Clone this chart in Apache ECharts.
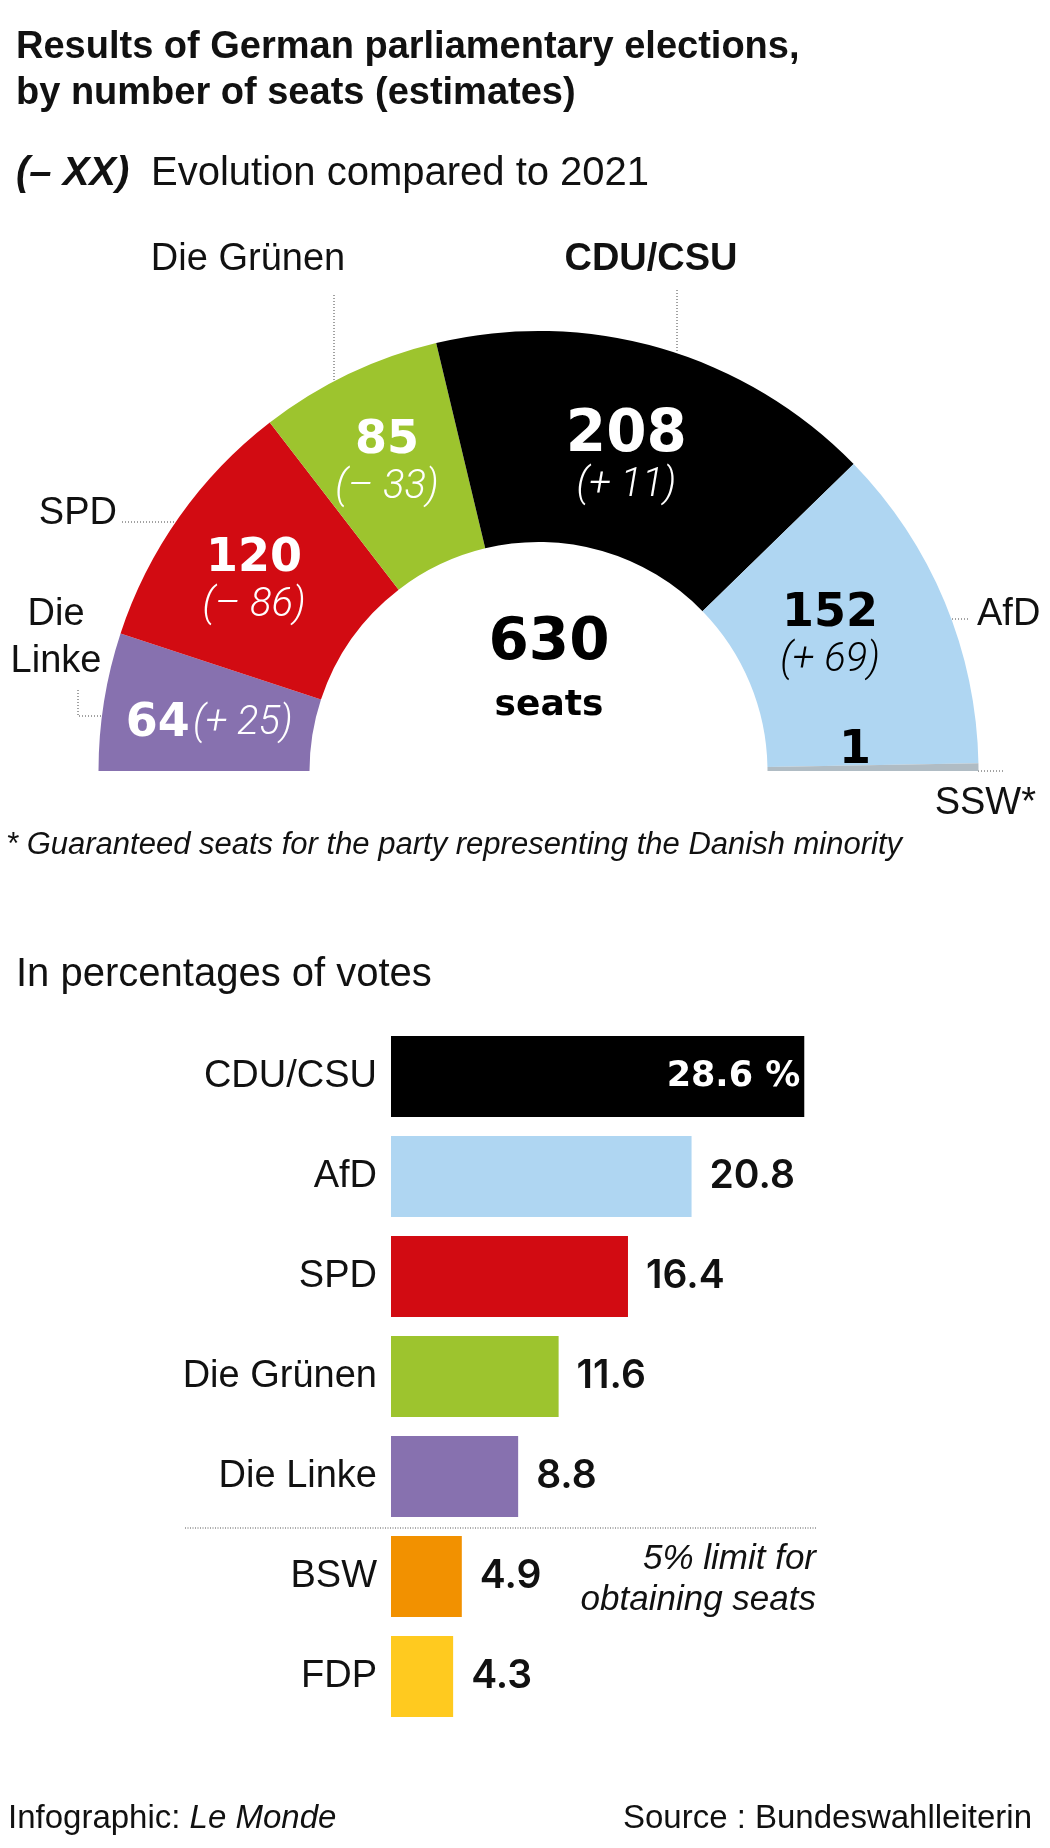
<!DOCTYPE html>
<html>
<head>
<meta charset="utf-8">
<title>German elections 2025</title>
<script src="https://cdn.jsdelivr.net/npm/echarts@6/dist/echarts.min.js"></script>
<style>
  html, body { margin: 0; padding: 0; background: #fff; }
  #chart { width: 1050px; height: 1848px; }
</style>
</head>
<body>
<div id="chart"></div>
<script>
// seats (half circle, left to right)
const seatParties = ['Die Linke', 'SPD', 'Die Grünen', 'CDU/CSU', 'AfD', 'SSW'];
const seatValues = [64, 120, 85, 208, 152, 1];
const seatChanges = ['+ 25', '– 86', '– 33', '+ 11', '+ 69', ''];
const seatColors = ['#8771af', '#d20b12', '#9dc42e', '#000000', '#afd6f2', '#b0bcc4'];

// votes in %
const voteParties = ['CDU/CSU', 'AfD', 'SPD', 'Die Grünen', 'Die Linke', 'BSW', 'FDP'];
const voteValues = [28.6, 20.8, 16.4, 11.6, 8.8, 4.9, 4.3];
const voteColors = ['#000000', '#afd6f2', '#d20b12', '#9dc42e', '#8771af', '#f29100', '#ffca1f'];

const totalSeats = seatValues.reduce((a, b) => a + b, 0);

// layout
const pieCenter = [538.5, 771];
const pieRadius = [229, 440];
const barGrid = { left: 391, top: 1026.5, width: 578, height: 700 };
const SANS = '"Liberation Sans", Arial, sans-serif';
const NUM = '"DejaVu Sans", sans-serif';
const THIN = 'Roboto, "Liberation Sans", sans-serif';
const VAL = 'Inter, "DejaVu Sans", sans-serif';

// small nudges of the slice labels
const labelNudge = {
  'Die Linke': [4, 6],
  'SPD': [-9, 5],
  'Die Grünen': [-6, -3],
  'CDU/CSU': [-6, 11],
  'AfD': [-20, -5],
  'SSW': [-21, -17]
};
const darkText = ['AfD', 'SSW'];

const seatData = seatParties.map((name, i) => {
  let text;
  if (!seatChanges[i]) text = '{n|' + seatValues[i] + '}';
  else if (name === 'Die Linke') text = '{n|' + seatValues[i] + '} {c|(' + seatChanges[i] + ')}';
  else if (name === 'CDU/CSU') text = '{big|' + seatValues[i] + '}\n{c|(' + seatChanges[i] + ')}';
  else text = '{n|' + seatValues[i] + '}\n{c|(' + seatChanges[i] + ')}';
  const col = darkText.includes(name) ? '#000' : '#fff';
  return {
    name: name,
    value: seatValues[i],
    itemStyle: { color: seatColors[i] },
    label: {
      formatter: text,
      offset: labelNudge[name],
      rich: {
        n: { fontFamily: NUM, fontWeight: 'bold', fontSize: 46, color: col, lineHeight: 50 },
        big: { fontFamily: NUM, fontWeight: 'bold', fontSize: 58, color: col, lineHeight: 56 },
        c: { fontFamily: THIN, fontStyle: 'italic', fontWeight: 300, fontSize: 40, color: col, lineHeight: 44 }
      }
    }
  };
});

const voteData = voteValues.map((v, i) => {
  const item = { value: v, itemStyle: { color: voteColors[i] } };
  if (i === 0) {
    item.label = {
      position: 'insideRight',
      distance: 4,
      formatter: v.toFixed(1) + ' %',
      color: '#fff',
      fontFamily: NUM,
      fontWeight: 'bold',
      fontSize: 35
    };
  }
  return item;
});

// helpers for annotation text
function text(x, baseline, str, size, opts) {
  opts = opts || {};
  return {
    type: 'text',
    x: x,
    y: baseline - 0.35 * size,
    silent: true,
    style: Object.assign({
      text: str,
      fontFamily: SANS,
      fontSize: size,
      fill: '#111',
      align: 'left',
      verticalAlign: 'middle'
    }, opts)
  };
}
function leader(points) {
  return {
    type: 'polyline',
    silent: true,
    shape: { points: points },
    style: { stroke: '#444', lineWidth: 1, lineDash: [1, 2], fill: null }
  };
}

const bandH = barGrid.height / voteParties.length;
const dividerY = barGrid.top + bandH * 5;

const graphics = [
  text(16, 61, 'Results of German parliamentary elections,', 38, { fontWeight: 'bold' }),
  text(16, 107, 'by number of seats (estimates)', 38, { fontWeight: 'bold' }),
  text(16, 188, '(– XX)', 40, { fontWeight: 'bold', fontStyle: 'italic' }),
  text(151, 188, 'Evolution compared to 2021', 40),
  // slice names
  text(248, 273, seatParties[2], 38, { align: 'center' }),
  text(651, 273, seatParties[3], 38, { align: 'center', fontWeight: 'bold' }),
  text(117, 527, seatParties[1], 38, { align: 'right' }),
  text(56, 628, 'Die', 38, { align: 'center' }),
  text(56, 675, 'Linke', 38, { align: 'center' }),
  text(977, 628, seatParties[4], 38),
  text(1036, 817, seatParties[5] + '*', 38, { align: 'right' }),
  leader([[334, 295], [334, 381]]),
  leader([[677, 290], [677, 352]]),
  leader([[122, 522], [175, 522]]),
  leader([[78, 690], [78, 716], [102, 716]]),
  leader([[952, 619], [968, 619]]),
  leader([[978, 771], [1005, 771]]),
  // total in the middle
  text(549, 664, String(totalSeats), 58, { align: 'center', fontFamily: NUM, fontWeight: 'bold', fill: '#000' }),
  text(549, 718, 'seats', 36, { align: 'center', fontFamily: NUM, fontWeight: 'bold', fill: '#000' }),
  text(6, 856, '* Guaranteed seats for the party representing the Danish minority', 31, { fontStyle: 'italic' }),
  // bars part
  text(16, 989, 'In percentages of votes', 40),
  {
    type: 'line', silent: true,
    shape: { x1: 185, y1: dividerY + 1.5, x2: 816, y2: dividerY + 1.5 },
    style: { stroke: '#555', lineWidth: 1, lineDash: [1, 1.5] }
  },
  text(816, 1572, '5% limit for', 35, { align: 'right', fontStyle: 'italic' }),
  text(816, 1613, 'obtaining seats', 35, { align: 'right', fontStyle: 'italic' }),
  {
    type: 'text', x: 8, y: 1830 - 11.5, silent: true,
    style: {
      text: 'Infographic: {i|Le Monde}',
      fontFamily: SANS, fontSize: 33, fill: '#111',
      verticalAlign: 'middle',
      rich: { i: { fontFamily: SANS, fontStyle: 'italic', fontSize: 33, fill: '#111' } }
    }
  },
  text(1032, 1830, 'Source : Bundeswahlleiterin', 33, { align: 'right' })
];

const chart = echarts.init(document.getElementById('chart'), null, { renderer: 'canvas' });

chart.setOption({
  animation: false,
  backgroundColor: '#fff',
  grid: {
    left: barGrid.left,
    top: barGrid.top,
    width: barGrid.width,
    height: barGrid.height,
    containLabel: false
  },
  xAxis: {
    type: 'value',
    min: 0,
    max: 40,
    show: false
  },
  yAxis: {
    type: 'category',
    inverse: true,
    data: voteParties,
    axisLine: { show: false },
    axisTick: { show: false },
    splitLine: { show: false },
    axisLabel: {
      fontFamily: SANS,
      fontSize: 38,
      color: '#111',
      margin: 14
    }
  },
  series: [
    {
      type: 'pie',
      center: pieCenter,
      radius: pieRadius,
      startAngle: 180,
      endAngle: 0,
      clockwise: true,
      minAngle: 1,
      silent: true,
      avoidLabelOverlap: false,
      itemStyle: { borderWidth: 0 },
      label: { show: true, position: 'inside' },
      labelLine: { show: false },
      emphasis: { disabled: true },
      data: seatData
    },
    {
      type: 'bar',
      barWidth: 81,
      silent: true,
      label: {
        show: true,
        position: 'right',
        distance: 18,
        fontFamily: VAL,
        fontWeight: 600,
        fontSize: 39,
        color: '#111',
        formatter: p => p.value.toFixed(1)
      },
      data: voteData
    }
  ],
  graphic: graphics
});

window.addEventListener('resize', () => chart.resize());
</script>
</body>
</html>
